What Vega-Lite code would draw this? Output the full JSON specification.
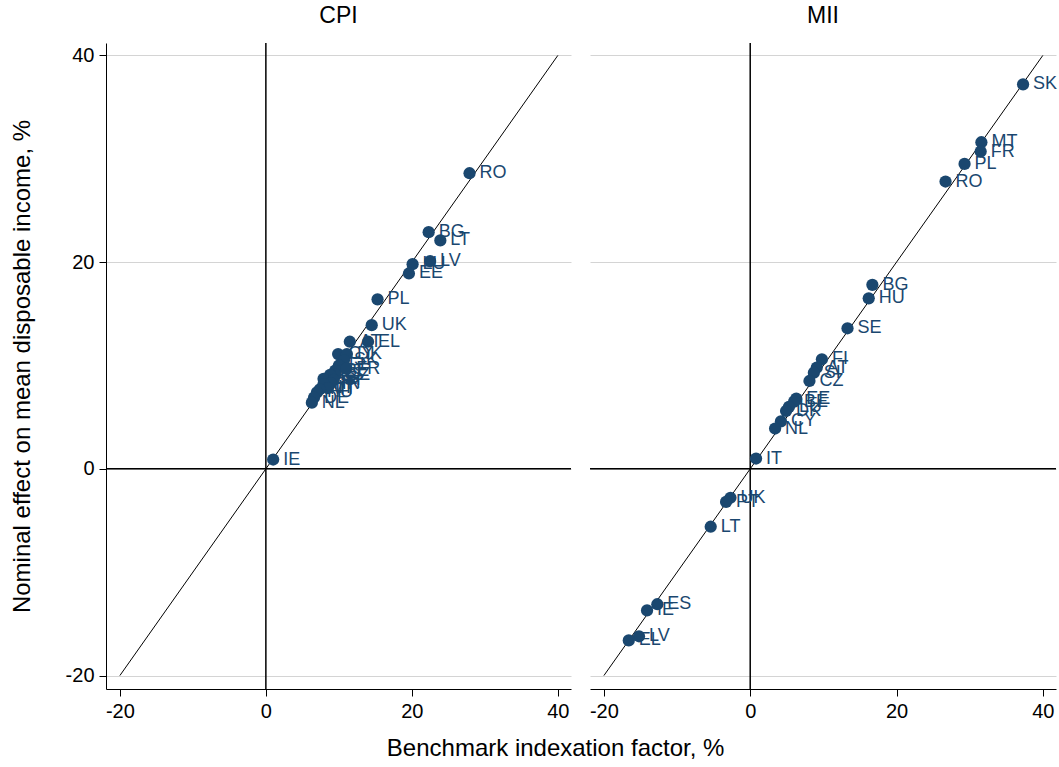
{
  "$schema": "https://vega.github.io/schema/vega-lite/v6.json",
  "background": "white",
  "padding": {"left": 10, "top": 5, "right": 3, "bottom": 5},
  "config": {
    "font": "Liberation Sans",
    "view": {"stroke": null},
    "concat": {"spacing": 17},
    "axis": {
      "domainColor": "black",
      "tickColor": "black",
      "labelColor": "black",
      "titleColor": "black",
      "labelFontSize": 20,
      "titleFontSize": 24,
      "titleFontWeight": "normal",
      "tickSize": 7,
      "labelPadding": 5
    }
  },
  "title": {
    "text": "Benchmark indexation factor, %",
    "orient": "bottom",
    "anchor": "middle",
    "fontSize": 24,
    "fontWeight": "normal",
    "color": "black",
    "offset": 16,
    "dx": 22
  },
  "datasets": {
    "cpi": [
      {"country": "RO", "x": 27.9, "y": 28.6},
      {"country": "BG", "x": 22.3, "y": 22.9},
      {"country": "LT", "x": 23.9, "y": 22.1},
      {"country": "LV", "x": 22.5, "y": 20.1},
      {"country": "LU", "x": 20.1, "y": 19.8},
      {"country": "EE", "x": 19.6, "y": 18.9},
      {"country": "PL", "x": 15.3, "y": 16.4},
      {"country": "UK", "x": 14.5, "y": 13.9},
      {"country": "AT", "x": 11.5, "y": 12.3},
      {"country": "EL", "x": 14.0, "y": 12.3},
      {"country": "CY", "x": 9.9, "y": 11.1},
      {"country": "DK", "x": 11.1, "y": 11.1},
      {"country": "SK", "x": 10.7, "y": 10.5},
      {"country": "FI", "x": 10.0, "y": 10.0},
      {"country": "BE", "x": 9.5, "y": 9.5},
      {"country": "FR", "x": 11.0, "y": 9.7},
      {"country": "CZ", "x": 9.6, "y": 9.1},
      {"country": "ES", "x": 8.8, "y": 9.1},
      {"country": "SE", "x": 7.9, "y": 8.7},
      {"country": "SI", "x": 9.3, "y": 8.6},
      {"country": "PT", "x": 8.9, "y": 8.3},
      {"country": "HR", "x": 7.9, "y": 8.2},
      {"country": "IT", "x": 8.5, "y": 7.8},
      {"country": "MT", "x": 7.4, "y": 7.7},
      {"country": "HU", "x": 7.0, "y": 7.4},
      {"country": "DE", "x": 6.6, "y": 6.9},
      {"country": "NL", "x": 6.3, "y": 6.4},
      {"country": "IE", "x": 1.0, "y": 0.9}
    ],
    "mii": [
      {"country": "SK", "x": 37.3, "y": 37.2},
      {"country": "MT", "x": 31.6, "y": 31.6},
      {"country": "FR", "x": 31.5, "y": 30.7},
      {"country": "PL", "x": 29.3, "y": 29.5},
      {"country": "RO", "x": 26.7, "y": 27.8},
      {"country": "BG", "x": 16.7, "y": 17.8},
      {"country": "HU", "x": 16.2, "y": 16.5},
      {"country": "SE", "x": 13.3, "y": 13.6},
      {"country": "FI", "x": 9.8, "y": 10.6},
      {"country": "AT", "x": 9.1, "y": 9.8},
      {"country": "SI", "x": 8.7, "y": 9.3},
      {"country": "CZ", "x": 8.1, "y": 8.5},
      {"country": "EE", "x": 6.3, "y": 6.8},
      {"country": "BE", "x": 6.0, "y": 6.5},
      {"country": "LU", "x": 5.3, "y": 6.0},
      {"country": "DK", "x": 4.9, "y": 5.6},
      {"country": "CY", "x": 4.2, "y": 4.6},
      {"country": "NL", "x": 3.4, "y": 3.9},
      {"country": "IT", "x": 0.8, "y": 1.0},
      {"country": "UK", "x": -2.7, "y": -2.8},
      {"country": "PT", "x": -3.3, "y": -3.2},
      {"country": "LT", "x": -5.4, "y": -5.6},
      {"country": "ES", "x": -12.7, "y": -13.1},
      {"country": "IE", "x": -14.1, "y": -13.7},
      {"country": "LV", "x": -15.2, "y": -16.2},
      {"country": "EL", "x": -16.6, "y": -16.6}
    ],
    "diag": [{"x1": -20, "y1": -20, "x2": 40, "y2": 40}],
    "zero": [{"z": 0}]
  },
  "hconcat": [
    {
      "width": 465,
      "height": 646,
      "title": {"text": "CPI", "fontSize": 23, "fontWeight": "normal", "color": "black", "offset": 14},
      "layer": [
        {
          "data": {"name": "cpi"},
          "mark": {"type": "circle", "size": 0, "opacity": 0},
          "encoding": {
            "x": {"field": "x", "type": "quantitative",
                  "scale": {"domain": [-21.9, 41.8], "nice": false, "zero": false},
                  "axis": {"values": [-20, 0, 20, 40], "grid": false, "title": null, "labelExpr": "'' + datum.value"}},
            "y": {"field": "y", "type": "quantitative",
                  "scale": {"domain": [-21.3, 41.2], "nice": false, "zero": false},
                  "axis": {"values": [-20, 0, 20, 40], "grid": true, "gridColor": "#d4d4d4", "gridWidth": 1,
                           "title": "Nominal effect on mean disposable income, %", "titlePadding": 31,
                           "labelExpr": "'' + datum.value"}}
          }
        },
        {
          "data": {"name": "zero"},
          "mark": {"type": "rule", "color": "black", "strokeWidth": 1.5},
          "encoding": {"x": {"field": "z", "type": "quantitative"}}
        },
        {
          "data": {"name": "zero"},
          "mark": {"type": "rule", "color": "black", "strokeWidth": 1.5},
          "encoding": {"y": {"field": "z", "type": "quantitative"}}
        },
        {
          "data": {"name": "diag"},
          "mark": {"type": "rule", "color": "black", "strokeWidth": 1},
          "encoding": {
            "x": {"field": "x1", "type": "quantitative"},
            "y": {"field": "y1", "type": "quantitative"},
            "x2": {"field": "x2"},
            "y2": {"field": "y2"}
          }
        },
        {
          "data": {"name": "cpi"},
          "mark": {"type": "circle", "size": 150, "color": "#1a476f", "opacity": 1},
          "encoding": {
            "x": {"field": "x", "type": "quantitative"},
            "y": {"field": "y", "type": "quantitative"}
          }
        },
        {
          "data": {"name": "cpi"},
          "mark": {"type": "text", "align": "left", "baseline": "middle", "dx": 10, "fontSize": 18, "color": "#1a476f"},
          "encoding": {
            "x": {"field": "x", "type": "quantitative"},
            "y": {"field": "y", "type": "quantitative"},
            "text": {"field": "country"}
          }
        }
      ]
    },
    {
      "width": 466,
      "height": 646,
      "title": {"text": "MII", "fontSize": 23, "fontWeight": "normal", "color": "black", "offset": 14},
      "layer": [
        {
          "data": {"name": "mii"},
          "mark": {"type": "circle", "size": 0, "opacity": 0},
          "encoding": {
            "x": {"field": "x", "type": "quantitative",
                  "scale": {"domain": [-21.9, 41.8], "nice": false, "zero": false},
                  "axis": {"values": [-20, 0, 20, 40], "grid": false, "title": null, "labelExpr": "'' + datum.value"}},
            "y": {"field": "y", "type": "quantitative",
                  "scale": {"domain": [-21.3, 41.2], "nice": false, "zero": false},
                  "axis": {"values": [-20, 0, 20, 40], "grid": true, "gridColor": "#d4d4d4", "gridWidth": 1,
                           "title": null, "labels": false, "ticks": false, "domain": false}}
          }
        },
        {
          "data": {"name": "zero"},
          "mark": {"type": "rule", "color": "black", "strokeWidth": 1.5},
          "encoding": {"x": {"field": "z", "type": "quantitative"}}
        },
        {
          "data": {"name": "zero"},
          "mark": {"type": "rule", "color": "black", "strokeWidth": 1.5},
          "encoding": {"y": {"field": "z", "type": "quantitative"}}
        },
        {
          "data": {"name": "diag"},
          "mark": {"type": "rule", "color": "black", "strokeWidth": 1},
          "encoding": {
            "x": {"field": "x1", "type": "quantitative"},
            "y": {"field": "y1", "type": "quantitative"},
            "x2": {"field": "x2"},
            "y2": {"field": "y2"}
          }
        },
        {
          "data": {"name": "mii"},
          "mark": {"type": "circle", "size": 150, "color": "#1a476f", "opacity": 1},
          "encoding": {
            "x": {"field": "x", "type": "quantitative"},
            "y": {"field": "y", "type": "quantitative"}
          }
        },
        {
          "data": {"name": "mii"},
          "mark": {"type": "text", "align": "left", "baseline": "middle", "dx": 10, "fontSize": 18, "color": "#1a476f"},
          "encoding": {
            "x": {"field": "x", "type": "quantitative"},
            "y": {"field": "y", "type": "quantitative"},
            "text": {"field": "country"}
          }
        }
      ]
    }
  ]
}
